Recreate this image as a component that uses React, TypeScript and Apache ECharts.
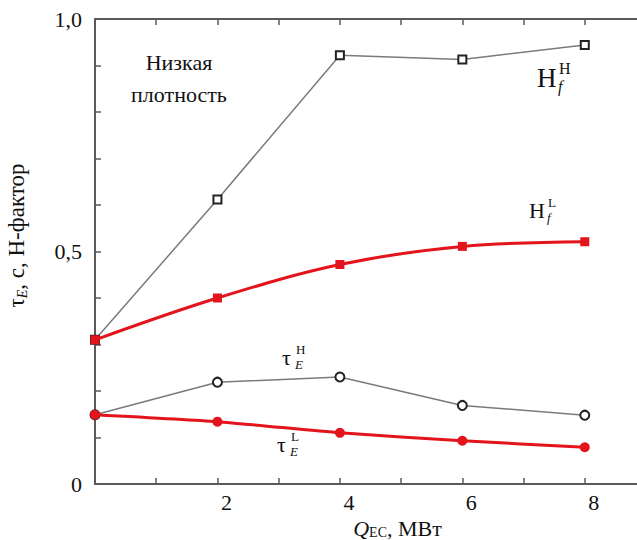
import React, { useEffect, useRef } from "react";
import * as echarts from "echarts";

const qEC = [0, 2, 4, 6, 8];
const hfHigh = [0.31, 0.612, 0.922, 0.913, 0.944];
const hfLow = [0.31, 0.4, 0.472, 0.511, 0.521];
const tauHigh = [0.149, 0.219, 0.23, 0.169, 0.148];
const tauLow = [0.149, 0.134, 0.11, 0.093, 0.079];
const yLabelValues = [0, 0.5, 1.0];

const SERIF = "'Liberation Serif', 'DejaVu Serif', serif";
const RED = "#e3141c";
const GRAY = "#7a7a7a";
const AXIS = "#5a5a5a";

function pairs(ys: number[]) {
  return qEC.map((x, i) => [x, ys[i]]);
}

function supSub(
  x: number,
  y: number,
  base: string,
  sup: string,
  sub: string,
  baseSize: number,
  baseW: number
) {
  const small = Math.round(baseSize * 0.6);
  return {
    type: "group",
    children: [
      {
        type: "text",
        x,
        y,
        style: {
          text: base,
          fontFamily: SERIF,
          fontSize: baseSize,
          fill: "#111",
          textVerticalAlign: "middle",
        },
      },
      {
        type: "text",
        x: x + baseW + 1,
        y: y - baseSize * 0.36,
        style: {
          text: sup,
          fontFamily: SERIF,
          fontSize: small,
          fill: "#111",
          textVerticalAlign: "middle",
        },
      },
      {
        type: "text",
        x: x + baseW,
        y: y + baseSize * 0.33,
        style: {
          text: sub,
          fontFamily: SERIF,
          fontStyle: "italic",
          fontSize: small,
          fill: "#111",
          textVerticalAlign: "middle",
        },
      },
    ],
  };
}

export default function App() {
  const ref = useRef<HTMLDivElement>(null);
  useEffect(() => {
    if (!ref.current) return;
    const chart = echarts.init(ref.current, undefined, { renderer: "svg" });
    const axisCommon = {
      type: "value",
      min: 0,
      max: 9,
      interval: 1,
      axisLine: { show: true, lineStyle: { color: AXIS, width: 2 } },
      axisTick: { show: true, inside: true, length: 6, lineStyle: { color: AXIS, width: 1.5 } },
      splitLine: { show: false },
    };
    chart.setOption({
      animation: false,
      backgroundColor: "#fff",
      grid: { left: 95, right: -9, top: 19, bottom: 56, containLabel: false, outerBoundsMode: "none" },
      xAxis: [
        {
          ...axisCommon,
          position: "bottom",
          name: "{q|Q}{s|EC}{n|, МВт}",
          nameLocation: "middle",
          nameGap: 25,
          nameTextStyle: {
            padding: [0, 0, 0, 54],
            rich: {
              q: { fontFamily: SERIF, fontStyle: "italic", fontSize: 22, color: "#111", lineHeight: 22 },
              s: { fontFamily: SERIF, fontSize: 14, color: "#111", verticalAlign: "bottom", lineHeight: 16 },
              n: { fontFamily: SERIF, fontSize: 22, color: "#111", lineHeight: 22 },
            },
          },
          axisLabel: {
            show: true,
            fontFamily: SERIF,
            fontSize: 22,
            color: "#111",
            margin: 7,
            padding: [0, 0, 0, 18],
            formatter: (v: number) => (v > 0 && v % 2 === 0 && v <= 8 ? String(v) : ""),
          },
        },
        {
          ...axisCommon,
          position: "top",
          axisLabel: { show: false },
        },
      ],
      yAxis: {
        type: "value",
        min: 0,
        max: 1,
        interval: 0.1,
        axisLine: { show: true, lineStyle: { color: AXIS, width: 2 } },
        axisTick: { show: true, inside: true, length: 6, lineStyle: { color: AXIS, width: 1.5 } },
        splitLine: { show: false },
        axisLabel: {
          fontFamily: SERIF,
          fontSize: 22,
          color: "#111",
          margin: 13,
          formatter: (v: number) => {
            const hit = yLabelValues.find((t) => Math.abs(t - v) < 1e-6);
            if (hit === undefined) return "";
            return hit === 0 ? "0" : hit.toFixed(1).replace(".", ",");
          },
        },
        name: "{t|τ}{s|E}{n|, c, H-фактор}",
        nameLocation: "middle",
        nameRotate: 90,
        nameGap: 66,
        nameTextStyle: {
          padding: [0, 0, 0, 32],
          rich: {
            t: { fontFamily: SERIF, fontSize: 23, color: "#111", lineHeight: 26 },
            s: { fontFamily: SERIF, fontStyle: "italic", fontSize: 14, color: "#111", verticalAlign: "bottom", lineHeight: 20 },
            n: { fontFamily: SERIF, fontSize: 23, color: "#111", lineHeight: 26 },
          },
        },
      },
      series: [
        {
          name: "Hf H",
          type: "line",
          data: pairs(hfHigh),
          lineStyle: { color: GRAY, width: 1.5 },
          symbol: "rect",
          symbolSize: 8,
          itemStyle: { color: "#fff", borderColor: "#222", borderWidth: 2 },
          z: 2,
        },
        {
          name: "tau H",
          type: "line",
          data: pairs(tauHigh),
          lineStyle: { color: GRAY, width: 1.5 },
          symbol: "circle",
          symbolSize: 9,
          itemStyle: { color: "#fff", borderColor: "#222", borderWidth: 2 },
          z: 2,
        },
        {
          name: "Hf L",
          type: "line",
          data: pairs(hfLow),
          smooth: 0.35,
          lineStyle: { color: RED, width: 3 },
          symbol: "rect",
          symbolSize: 9,
          itemStyle: { color: RED, borderColor: RED, borderWidth: 0 },
          z: 3,
        },
        {
          name: "tau L",
          type: "line",
          data: pairs(tauLow),
          smooth: 0.2,
          lineStyle: { color: RED, width: 3 },
          symbol: "circle",
          symbolSize: 10,
          itemStyle: { color: RED, borderColor: RED, borderWidth: 0 },
          z: 3,
        },
      ],
      graphic: [
        {
          type: "text",
          x: 179,
          y: 62,
          style: { text: "Низкая", fontFamily: SERIF, fontSize: 22, fill: "#111", textAlign: "center", textVerticalAlign: "middle" },
        },
        {
          type: "text",
          x: 179,
          y: 94,
          style: { text: "плотность", fontFamily: SERIF, fontSize: 22, fill: "#111", textAlign: "center", textVerticalAlign: "middle" },
        },
        supSub(537, 78, "H", "H", "f", 27, 21),
        supSub(529, 210, "H", "L", "f", 22, 18),
        supSub(282, 357, "τ", "H", "E", 22, 13),
        supSub(277, 444, "τ", "L", "E", 22, 13),
      ],
    });
    return () => chart.dispose();
  }, []);
  return <div ref={ref} style={{ width: 637, height: 540, position: "absolute", left: 0, top: 0 }} />;
}
